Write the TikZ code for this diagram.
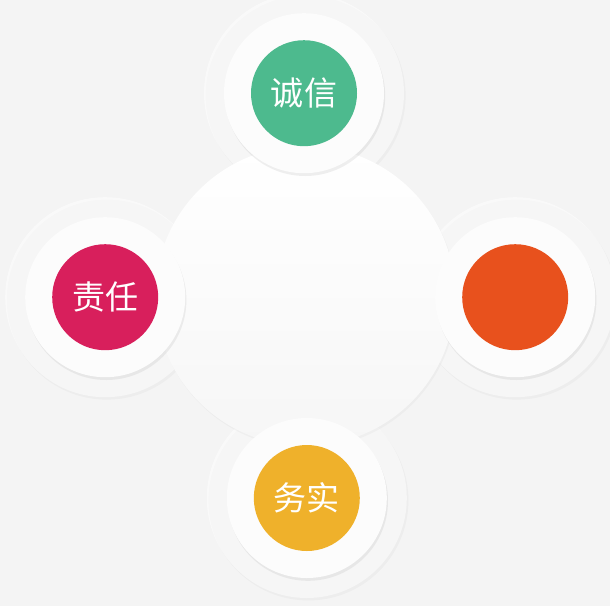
\documentclass[tikz,border=0pt]{standalone}
\usepackage{fontspec}
\newfontfamily\cjk{Noto Sans CJK SC}
\usetikzlibrary{shadows}
\usetikzlibrary{positioning}

\definecolor{bgcol}{HTML}{F4F4F4}
\definecolor{greencol}{HTML}{4DBA8E}
\definecolor{redcol}{HTML}{D81F5C}
\definecolor{orangecol}{HTML}{E8511D}
\definecolor{yellowcol}{HTML}{EFB12B}

\begin{document}
\begin{tikzpicture}[ring/.style={circle, minimum size=5cm, fill=white, fill opacity=0.5,
    drop shadow={opacity=0.06, shadow xshift=0.04cm, shadow yshift=-0.06cm}},
  plate/.style={circle, minimum size=4cm, fill=white!98!gray,
    drop shadow={opacity=0.12, shadow xshift=0.03cm, shadow yshift=-0.07cm}},
  dot/.style={circle, minimum size=2.65cm, fill=#1, text=white, font=\cjk\fontsize{23.5}{23.5}\selectfont}]

% background and size
\fill[bgcol] (0,0) rectangle (15.25,-15.15);
\useasboundingbox (0,0) rectangle (15.25,-15.15);

% faint rings
\node (ring_top)[ring] at (7.6,-2.33) {};
\node (ring_left)[ring] at (2.63,-7.43) {};
\node (ring_right)[ring] at (12.88,-7.43) {};
\node (ring_bottom)[ring] at (7.67,-12.45) {};

% middle disc
\node (hub)[circle, minimum size=7.5cm, top color=white, bottom color=gray!7,
  drop shadow={opacity=0.06, shadow xshift=0.03cm, shadow yshift=-0.05cm}] at (7.63,-7.4) {};

% white plates
\node (plate_top)[plate] at (ring_top) {};
\node (plate_left)[plate] at (ring_left) {};
\node (plate_right)[plate] at (ring_right) {};
\node (plate_bottom)[plate] at (ring_bottom) {};

% coloured dots
\node (honest)[dot=greencol] at (plate_top) {诚信};
\node (duty)[dot=redcol] at (plate_left) {责任};
\node (blank)[dot=orangecol] at (plate_right) {};
\node (practical)[dot=yellowcol] at (plate_bottom) {务实};
\end{tikzpicture}
\end{document}
